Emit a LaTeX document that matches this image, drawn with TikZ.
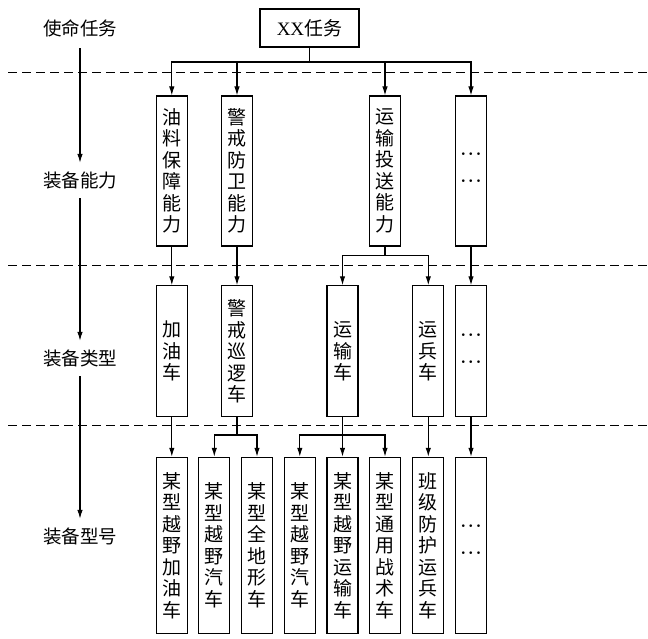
\documentclass[tikz,border=0pt]{standalone}
\usepackage{fontspec}
\setmainfont{Liberation Serif}
\newfontfamily\cjk{Noto Sans CJK SC}
\usetikzlibrary{arrows.meta}
\tikzset{
  vbox/.style={draw, line width=1.1pt, minimum width=31pt, inner sep=0pt, align=center,
    font=\cjk\fontsize{19}{21.5}\selectfont},
  r1/.style={vbox, minimum height=150pt},
  r2/.style={vbox, minimum height=131pt},
  r3/.style={vbox, minimum height=176pt},
  lab/.style={font=\cjk\fontsize{18.5}{20}\selectfont, minimum height=34pt, inner sep=0pt},
  conn/.style={line width=1.1pt},
  arr/.style={conn, -{Latex[length=9pt,width=5.5pt]}},
  sep/.style={line width=1pt, dash pattern=on 9pt off 5pt},
  dots/.style={align=center, inner sep=0pt, font=\boldmath\fontsize{19}{27}\selectfont}
}
\newcommand\dotrow{${\cdot}\mkern2mu{\cdot}\mkern2mu{\cdot}$}
\newcommand\ellip{\dotrow\\\dotrow}
\begin{document}
\begin{tikzpicture}[x=1pt,y=-1pt]
\useasboundingbox (0,0) rectangle (648,639);
% separators
\draw[sep] (8,72.7) -- (648,72.7);
\draw[sep] (8,265) -- (648,265);
\draw[sep] (8,425) -- (648,425);
% left labels
\node[lab] (l1) at (80,28) {使命任务};
\node[lab] (l2) at (80,180) {装备能力};
\node[lab] (l3) at (80,358) {装备类型};
\node[lab] (l4) at (80,536) {装备型号};
\draw[arr, shorten <=3pt] (l1) -- (l2);
\draw[arr, shorten <=1pt] (l2) -- (l3);
\draw[arr, shorten <=1pt] (l3) -- (l4);
% top
\node[draw, line width=1.1pt, minimum width=99pt, minimum height=38pt, inner sep=0pt,
  font=\fontsize{19}{20}\selectfont] (xx) at (309.5,28) {XX{\cjk 任务}};
% row 1
\node[r1] (a1) at (171.8,171) {油\\料\\保\\障\\能\\力};
\node[r1] (a2) at (237,171) {警\\戒\\防\\卫\\能\\力};
\node[r1] (a3) at (385,171) {运\\输\\投\\送\\能\\力};
\node[r1] (a4) at (471,171) {};
\node[dots] (d1) at (471,168) {\ellip};
% row 2
\node[r2] (b1) at (171.8,351.3) {加\\油\\车};
\node[r2] (b2) at (237,351.3) {警\\戒\\巡\\逻\\车};
\node[r2] (b3) at (342.5,351.3) {运\\输\\车};
\node[r2] (b4) at (428.3,351.3) {运\\兵\\车};
\node[r2] (b5) at (471,351.3) {};
\node[dots] (d2) at (471,349) {\ellip};
% row 3
\node[r3] (c1) at (171.8,545.3) {某\\型\\越\\野\\加\\油\\车};
\node[r3] (c2) at (214.3,545.3) {某\\型\\越\\野\\汽\\车};
\node[r3] (c3) at (257,545.3) {某\\型\\全\\地\\形\\车};
\node[r3] (c4) at (299.8,545.3) {某\\型\\越\\野\\汽\\车};
\node[r3] (c5) at (342.5,545.3) {某\\型\\越\\野\\运\\输\\车};
\node[r3] (c6) at (385,545.3) {某\\型\\通\\用\\战\\术\\车};
\node[r3] (c7) at (428.3,545.3) {班\\级\\防\\护\\运\\兵\\车};
\node[r3] (c8) at (471,545.3) {};
\node[dots] (d3) at (471,540) {\ellip};
% connectors top
\coordinate (j0) at (309.5,62);
\draw[conn] (xx) -- (j0);
\draw[arr] (j0) -| (a1);
\draw[arr] (j0) -| (a2);
\draw[arr] (j0) -| (a3);
\draw[arr] (j0) -| (a4);
% row1 -> row2
\draw[arr] (a1) -- (b1);
\draw[arr] (a2) -- (b2);
\coordinate (j3) at (385,255.7);
\draw[conn] (a3) -- (j3);
\draw[arr] (j3) -| (b3);
\draw[arr] (j3) -| (b4);
\draw[arr] (a4) -- (b5);
% row2 -> row3
\draw[arr] (b1) -- (c1);
\coordinate (k2) at (237,435);
\draw[conn] (b2) -- (k2);
\draw[arr] (k2) -| (c2);
\draw[arr] (k2) -| (c3);
\coordinate (k3) at (342.5,435);
\draw[conn] (b3) -- (k3);
\draw[arr] (k3) -| (c4);
\draw[arr] (k3) -- (c5);
\draw[arr] (k3) -| (c6);
\draw[arr] (b4) -- (c7);
\draw[arr] (b5) -- (c8);
\end{tikzpicture}
\end{document}
